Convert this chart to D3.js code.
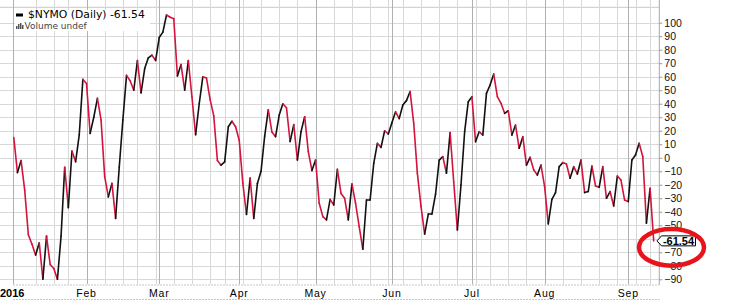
<!DOCTYPE html>
<html><head><meta charset="utf-8">
<script src="https://cdn.jsdelivr.net/npm/d3@7"></script>
<style>
html,body{margin:0;padding:0;background:#fff;}
svg{display:block;}
</style></head>
<body>
<svg id="chart" width="730" height="301"></svg>
<script>
// ---- data ----
const symbol = "$NYMO (Daily)";
const lastLabel = "-61.54";
const startDate = "2015-12-31";
const holidays = ["2016-01-01","2016-01-18","2016-02-15","2016-03-25","2016-05-30","2016-07-04","2016-09-05"];
const values = [
 15,-11,-2,-24,-57,-64,-72,-63,-90,-58,
 -79,-82,-90,-58,-7,-37,5,-3,17,58,
 55,18,30,44,28,-14,-29,-19,-45,-7,
 28,61,57,50,72,48,66,74,76,72,
 89,93,105.7,104,103,60.5,69,50,72,45,
 17,40,60,59,43,31,-2,-5.5,-3,23,
 27,23,13,-19,-42,-15,-45,-19,-10,16,
 35.5,19,15.6,31.6,40,37,12,24.5,-1.7,19.3,
 30.4,4.5,-9.5,-1.7,-33.7,-43.6,-46,-30.8,-35,-8.6,
 -26.4,-30,-46,-19.4,-33.7,-51,-67.8,-31.3,-31.3,-4.1,
 10.7,7.7,20,17.6,26,34,29,39,42.3,49,
 25.5,-11.6,-36,-56.5,-41.7,-41.7,-27,-1.7,0.8,-11.5,
 18.6,-18,-53.5,-20,19.3,41.5,45.2,11.9,19.3,16.8,
 47.7,53.9,62,45.2,40.3,32.9,34.8,16.8,24.2,7,
 15.6,-5.4,0.3,-9,-12.8,-5.4,-21.4,-49,-30.8,-25.8,
 -6.6,-3.6,-4.6,-15.2,-6.6,-12,-1.7,-25.8,-25,-6.1,
 -20.9,-21.9,-6.6,-30,-25,-35.7,-13.5,-16.5,-31.3,-32.5,
 -1.7,2,10.7,0.8,-48.5,-22.6,-61.54
];
const yTicks = [100,90,80,70,60,50,40,30,20,10,0,-10,-20,-30,-40,-50,-60,-70,-80,-90];
const monthNames = ["Jan","Feb","Mar","Apr","May","Jun","Jul","Aug","Sep","Oct","Nov","Dec"];
const yearLabel = "2016";

// ---- trading dates ----
const parse = d3.utcParse("%Y-%m-%d"), fmt = d3.utcFormat("%Y-%m-%d");
const hol = new Set(holidays);
const dates = [];
let d = parse(startDate);
while (dates.length < values.length) {
  const wd = d.getUTCDay();
  if (wd !== 0 && wd !== 6 && !hol.has(fmt(d))) dates.push(new Date(d));
  d = d3.utcDay.offset(d, 1);
}

// ---- layout ----
const W = 730, H = 301;
const plotLeft = 13.5, plotTop = 7.3, plotRight = 659.3, plotBottom = 284.5;
const bandBottom = 299;
const svg = d3.select("#chart");

const x = d3.scaleLinear().domain([0, values.length - 1]).range([13.8, 653.7]);
const y = d3.scaleLinear().domain([-100, 100]).range([292.8, 22.7]);

// first trading day of each month (excluding the year boundary) / week
const monthStarts = [], weekStarts = [];
dates.forEach((dt, i) => {
  if (i === 0) return;
  const p = dates[i-1];
  if (dt.getUTCMonth() !== p.getUTCMonth()) {
    if (dt.getUTCFullYear() === p.getUTCFullYear()) monthStarts.push(i);
  } else if (d3.utcMonday.floor(dt).getTime() !== d3.utcMonday.floor(p).getTime()) weekStarts.push(i);
});

// ---- grid ----
const g = svg.append("g");
g.selectAll("line.h").data(yTicks.concat([-100])).join("line")
  .attr("x1", 0).attr("x2", plotRight)
  .attr("y1", v => Math.round(y(v)) + 0.5).attr("y2", v => Math.round(y(v)) + 0.5)
  .attr("stroke", "#d8d8d8").attr("stroke-width", 1);
g.append("line").attr("x1", 0).attr("x2", plotRight).attr("y1", plotTop).attr("y2", plotTop)
  .attr("stroke", "#c8c8c8");
g.selectAll("line.w").data(weekStarts).join("line")
  .attr("x1", i => Math.round(x(i)) + 0.5).attr("x2", i => Math.round(x(i)) + 0.5)
  .attr("y1", 0).attr("y2", plotBottom)
  .attr("stroke", "#d8d8d8");
g.selectAll("line.m").data(monthStarts).join("line")
  .attr("x1", i => Math.round(x(i)) + 0.5).attr("x2", i => Math.round(x(i)) + 0.5)
  .attr("y1", 0).attr("y2", plotBottom)
  .attr("stroke", "#b0b0b0");
g.append("line").attr("x1", plotLeft).attr("x2", plotLeft).attr("y1", 0).attr("y2", plotBottom)
  .attr("stroke", "#b0b0b0");

// ---- legend background ----
svg.append("rect").attr("x", 15).attr("y", 10).attr("width", 135).attr("height", 21).attr("fill", "#fff");

// ---- line, coloured by direction ----
const segs = values.slice(1).map((v, k) => ({i0: k, v0: values[k], i1: k + 1, v1: v}));
svg.append("g").selectAll("line").data(segs).join("line")
  .attr("x1", s => x(s.i0)).attr("y1", s => y(s.v0))
  .attr("x2", s => x(s.i1)).attr("y2", s => y(s.v1))
  .attr("stroke", s => s.v1 < s.v0 ? "#d3143c" : "#111")
  .attr("stroke-width", 1.6).attr("stroke-linecap", "round");

// ---- date band ----
svg.append("rect").attr("x", 0).attr("y", plotBottom).attr("width", W).attr("height", bandBottom - plotBottom).attr("fill", "#fff");
[plotBottom, bandBottom].forEach(yy => {
  svg.append("line").attr("x1", plotLeft).attr("x2", plotRight).attr("y1", yy + 0.5).attr("y2", yy + 0.5)
    .attr("stroke", "#8c8c8c").attr("stroke-dasharray", "1,2");
});
svg.append("text").attr("x", 0).attr("y", 297).text(yearLabel)
  .attr("font-family", "Liberation Sans, Arial, sans-serif").attr("font-weight", "bold")
  .attr("font-size", 11).attr("fill", "#000");
svg.selectAll("text.month").data(monthStarts).join("text")
  .attr("x", i => x(i)).attr("y", 297)
  .attr("text-anchor", "middle")
  .attr("font-family", "Liberation Sans, Arial, sans-serif").attr("font-size", 10.5)
  .attr("letter-spacing", 0.8).attr("fill", "#000")
  .text(i => monthNames[dates[i].getUTCMonth()]);

// ---- right axis ----
const lastY = y(values[values.length - 1]);
svg.append("line").attr("x1", plotRight).attr("x2", plotRight).attr("y1", 0).attr("y2", plotBottom)
  .attr("stroke", "#a8a8a8");
// tick labels hidden under the last-value tag are not shown
const visibleTicks = yTicks.filter(v => Math.abs(y(v) - lastY) > 7);
const axis = d3.axisRight(y).tickValues(visibleTicks).tickSize(3).tickPadding(2).tickFormat(d3.format("d"));
const ag = svg.append("g").attr("transform", `translate(${plotRight},0)`).call(axis);
ag.select(".domain").remove();
ag.selectAll(".tick line").attr("stroke", "#999");
ag.selectAll(".tick text").attr("font-family", "Liberation Sans, Arial, sans-serif")
  .attr("font-size", 10.5).attr("fill", "#111");

// ---- last value tag ----
const tag = svg.append("g").attr("transform", `translate(0,${lastY})`);
tag.append("path")
  .attr("d", "M657,0 L661.5,-5 L695.5,-5 L695.5,5 L661.5,5 Z")
  .attr("fill", "#fff").attr("stroke", "#000").attr("stroke-width", 1);
tag.append("text").attr("x", 678.5).attr("y", 4).attr("text-anchor", "middle")
  .attr("font-family", "Liberation Sans, Arial, sans-serif").attr("font-weight", "bold")
  .attr("font-size", 11).attr("fill", "#000").text(lastLabel);

// ---- annotation ellipse ----
svg.append("ellipse").attr("cx", 671.5).attr("cy", lastY + 6.5).attr("rx", 32.5).attr("ry", 18.3)
  .attr("fill", "none").attr("stroke", "#e8141c").attr("stroke-width", 4.5);

// ---- legend ----
svg.append("line").attr("x1", 16).attr("x2", 23).attr("y1", 15).attr("y2", 15)
  .attr("stroke", "#000").attr("stroke-width", 3);
svg.append("text").attr("x", 28).attr("y", 18.2)
  .attr("font-family", "DejaVu Sans, Verdana, sans-serif").attr("font-size", 10.8).attr("fill", "#000")
  .text(`${symbol} ${lastLabel}`);
const bars = [[16,3],[18,5],[20,6],[22,4]];
svg.append("g").selectAll("rect").data(bars).join("rect")
  .attr("x", b => b[0]).attr("y", b => 29 - b[1]).attr("width", 1.5).attr("height", b => b[1])
  .attr("fill", "#555");
svg.append("text").attr("x", 24.5).attr("y", 29.4)
  .attr("font-family", "DejaVu Sans, Verdana, sans-serif").attr("font-size", 9).attr("fill", "#444")
  .text("Volume undef");
</script>
</body></html>
